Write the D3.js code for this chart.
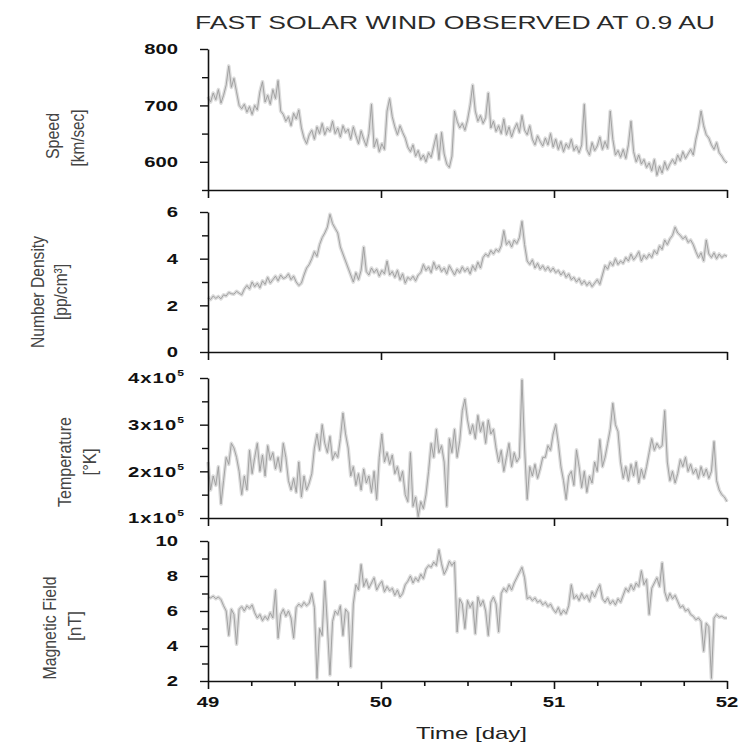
<!DOCTYPE html>
<html><head><meta charset="utf-8">
<script src="https://cdn.jsdelivr.net/npm/d3@7"></script>
<style>body{margin:0;background:#fff}svg{display:block}</style>
</head><body>
<svg id="chart" width="741" height="745"></svg>
<script>
// ---- sampling grid (day of year) ----
const timeStart = 49, timeStep = 0.015;

// ---- series values ----
const speed = [
715,706,722,710,728,704,718,736,770,732,
748,724,700,694,702,688,698,684,700,692,
724,742,706,718,702,728,712,744,690,684,
672,680,664,686,676,692,660,642,632,648,
656,640,662,650,668,648,660,654,672,650,
660,644,664,652,658,640,662,646,632,655,
640,628,650,702,626,640,618,632,622,690,
712,680,662,648,664,652,642,626,618,630,
610,620,604,612,600,616,608,628,648,604,
652,614,596,590,610,690,672,660,668,656,
674,700,736,690,672,682,668,678,722,660,
672,654,664,650,676,648,662,644,658,668,
652,682,656,648,664,640,630,646,636,628,
642,630,650,626,640,622,636,618,632,624,
640,620,628,616,630,702,622,612,634,620,
628,644,622,636,624,690,640,612,620,608,
622,606,630,672,618,600,612,596,604,590,
598,584,604,576,592,580,600,586,596,604,
596,612,602,618,606,614,622,612,640,660,
690,664,648,642,630,622,634,616,610,602,
598];

const density = [
2.35,2.25,2.4,2.3,2.38,2.28,2.45,2.4,2.55,2.5,
2.48,2.6,2.52,2.45,2.7,2.85,2.7,3.0,2.8,2.95,
2.75,3.05,2.9,3.2,2.95,3.1,3.25,3.05,3.3,3.15,
3.2,3.35,3.1,3.25,3.0,2.85,2.95,3.3,3.6,3.75,
4.0,4.3,4.1,4.6,4.9,5.1,5.35,5.9,5.5,5.3,
5.1,4.5,4.2,3.9,3.6,3.3,3.0,3.4,3.1,3.5,
4.5,3.45,3.3,3.6,3.4,3.55,3.25,3.5,3.35,3.9,
3.3,3.45,3.2,3.5,3.1,3.35,2.95,3.2,3.1,3.25,
3.05,3.3,3.4,3.75,3.5,3.65,3.4,3.85,3.55,3.7,
3.45,3.6,3.35,3.7,3.5,3.3,3.55,3.4,3.65,3.45,
3.6,3.35,3.7,3.5,3.85,3.6,4.05,4.2,4.1,4.35,
4.2,4.4,4.3,4.55,5.2,4.6,4.75,4.5,4.8,4.65,
4.9,5.6,4.6,3.9,3.75,3.95,3.6,3.8,3.55,3.7,
3.5,3.65,3.45,3.6,3.4,3.5,3.3,3.45,3.2,3.35,
3.1,3.2,3.0,3.15,2.9,3.05,2.85,3.0,2.8,2.95,
3.1,2.9,3.3,3.7,3.55,3.85,3.7,4.0,3.75,3.9,
3.8,4.05,3.9,4.2,3.95,4.1,4.3,3.9,4.15,4.0,
4.2,4.05,4.35,4.2,4.55,4.4,4.8,4.6,4.85,5.0,
5.35,5.1,5.0,4.85,4.95,4.7,4.8,4.6,4.3,4.05,
4.25,3.9,4.8,4.2,4.05,4.25,4.0,4.2,4.05,4.15,
4.1];

// temperature in units of 10^5 K
const temperatureE5 = [
2.2,1.6,1.9,1.7,2.1,1.3,1.8,2.3,2.15,2.6,
2.5,2.3,2.0,1.5,1.9,1.6,2.45,1.95,2.3,2.6,
2.0,2.35,1.9,2.55,2.25,2.4,2.05,2.3,2.0,2.6,
2.3,1.8,1.6,1.85,1.55,2.2,1.45,1.9,1.6,1.75,
1.95,2.5,2.8,2.45,3.0,2.6,2.4,2.75,2.25,2.4,
2.3,2.7,3.25,2.8,2.5,1.9,2.1,1.7,1.95,1.6,
2.05,1.75,1.9,1.55,2.0,1.4,2.3,2.8,2.2,2.4,
2.15,2.35,1.95,2.1,1.8,2.0,1.5,1.35,2.4,1.25,
1.45,1.03,1.35,1.2,1.5,2.0,2.6,2.3,2.9,2.4,
2.55,2.2,1.25,2.7,2.4,2.9,2.3,2.65,3.3,3.55,
3.1,2.8,3.0,2.7,3.2,2.85,3.05,2.6,3.1,2.8,
2.9,2.5,2.2,2.45,2.0,2.3,2.6,2.1,2.4,2.2,
2.3,3.96,2.5,1.4,2.1,1.9,2.15,1.85,2.05,2.3,
2.3,2.55,2.45,2.8,3.0,2.6,2.1,1.8,1.4,1.9,
2.0,1.7,2.46,2.1,1.65,2.0,1.55,1.9,1.75,2.2,
2.0,2.68,2.1,2.3,2.6,2.9,3.46,3.0,2.85,2.2,
1.85,2.1,1.8,2.15,1.9,2.2,1.75,2.05,1.85,2.1,
2.4,2.7,2.45,2.6,2.5,2.55,3.3,2.2,1.8,2.0,
1.75,1.95,2.25,2.1,2.3,2.0,2.15,1.95,2.05,1.85,
2.1,1.9,2.05,1.85,2.0,2.64,1.8,1.6,1.5,1.45,
1.35];

const magnetic = [
6.8,6.75,6.85,6.7,6.8,6.65,6.3,6.0,4.6,6.1,
5.8,4.1,6.1,6.25,6.0,6.3,6.15,6.35,5.9,5.6,
5.8,5.45,5.7,5.5,5.9,5.6,7.2,4.45,5.8,6.1,
5.7,6.0,5.6,4.45,6.2,6.4,6.25,6.5,6.3,6.45,
7.0,6.2,2.15,5.0,4.6,7.7,5.2,2.35,5.4,6.0,
5.8,6.3,4.6,6.1,5.9,2.8,6.4,7.5,7.2,8.66,
7.4,7.8,7.3,7.6,7.9,7.2,7.5,7.7,7.1,7.4,
7.15,7.3,6.9,7.2,6.8,7.0,7.5,7.7,8.0,7.6,
7.9,7.7,8.1,7.85,8.4,8.6,8.5,8.8,8.6,9.5,
8.7,8.1,8.4,8.85,8.6,8.8,4.8,6.7,6.4,5.0,
6.6,6.2,6.5,4.7,6.8,6.3,6.6,6.0,4.6,6.5,
6.8,6.4,4.8,7.0,7.3,7.1,7.5,7.2,7.6,7.9,
8.2,8.5,7.9,6.7,6.8,6.6,6.75,6.5,6.6,6.35,
6.5,6.25,6.4,6.1,5.9,6.2,5.8,6.05,5.85,6.3,
7.5,6.7,6.9,6.6,7.0,6.7,6.9,6.55,7.1,6.8,
7.2,7.5,6.7,6.5,6.75,6.4,6.6,6.35,6.7,6.5,
6.9,7.3,7.1,7.5,7.2,7.6,7.4,8.3,7.5,7.8,
5.8,7.3,7.6,7.9,7.4,8.75,7.1,6.6,7.0,6.7,
6.9,6.55,6.2,6.3,6.0,6.1,5.8,5.7,5.5,5.6,
5.4,3.7,5.3,5.1,2.15,5.6,5.8,5.65,5.7,5.6,
5.6];

// ---- tick values / labels ----
const xMajorTicks = [49, 50, 51, 52];
const xMinorTicks = [49.25, 49.5, 49.75, 50.25, 50.5, 50.75, 51.25, 51.5, 51.75];
const xTickLabels = ["49", "50", "51", "52"];

const speedTicks = [600, 700, 800];
const speedMinor = [550, 650, 750];
const densityTicks = [0, 2, 4, 6];
const densityMinor = [1, 3, 5];
const tempTicks = [1, 2, 3, 4];
const tempMinor = [1.5, 2.5, 3.5];
const tempTickLabels = ["1x10", "2x10", "3x10", "4x10"];
const magTicks = [2, 4, 6, 8, 10];
const magMinor = [3, 5, 7, 9];

const titleText = "FAST SOLAR WIND OBSERVED AT 0.9 AU";
const xTitle = "Time [day]";

// ---- layout ----
const svg = d3.select("#chart");
const X0 = 208, X1 = 727;
const x = d3.scaleLinear().domain([49, 52]).range([X0, X1]);
const FONT = "'Liberation Sans', Arial, Helvetica, sans-serif";
const SX = 1.35; // horizontal stretch of the original figure

svg.append("rect").attr("width", 741).attr("height", 745).attr("fill", "#fff");

svg.append("text")
  .attr("x", 195).attr("y", 29)
  .attr("font-family", FONT).attr("font-size", 19).attr("fill", "#2a2a2a")
  .attr("textLength", 520).attr("lengthAdjust", "spacingAndGlyphs")
  .text(titleText);

const panels = [
  {data: speed, domain: [550, 800], top: 49, bottom: 190, major: speedTicks, minor: speedMinor,
   labels: speedTicks.map(String), titles: [
     {t: "Speed", cx: 52, cy: 136, len: 46}, {t: "[km/sec]", cx: 77, cy: 138, len: 57}]},
  {data: density, domain: [0, 6], top: 212, bottom: 352, major: densityTicks, minor: densityMinor,
   labels: densityTicks.map(String), titles: [
     {t: "Number Density", cx: 37, cy: 292, len: 112}, {t: "[pp/cm³]", cx: 60, cy: 292, len: 56}]},
  {data: temperatureE5, domain: [1, 4], top: 378, bottom: 518, major: tempTicks, minor: tempMinor,
   labels: tempTickLabels, sup: "5", titles: [
     {t: "Temperature", cx: 64, cy: 462, len: 90}, {t: "[°K]", cx: 89, cy: 462, len: 27}]},
  {data: magnetic, domain: [2, 10], top: 541, bottom: 681, major: magTicks, minor: magMinor,
   labels: magTicks.map(String), titles: [
     {t: "Magnetic Field", cx: 49, cy: 628, len: 103}, {t: "[nT]", cx: 74, cy: 626, len: 30}]}
];

panels.forEach((p, pi) => {
  const y = d3.scaleLinear().domain(p.domain).range([p.bottom, p.top]);
  const g = svg.append("g");

  // data line: a soft light halo under a thin grey core
  const line = d3.line()
    .x((d, i) => x(timeStart + i * timeStep))
    .y(d => y(d));
  g.append("path").datum(p.data)
    .attr("d", line)
    .attr("fill", "none")
    .attr("stroke", "#dcdcdc")
    .attr("stroke-width", 3.6)
    .attr("stroke-linejoin", "round");
  g.append("path").datum(p.data)
    .attr("d", line)
    .attr("fill", "none")
    .attr("stroke", "#9c9c9c")
    .attr("stroke-width", 0.9)
    .attr("stroke-linejoin", "round");

  // y axis
  const yMaj = g.append("g").attr("transform", `translate(${X0},0)`)
    .call(d3.axisLeft(y).tickValues(p.major).tickSize(8).tickSizeOuter(0).tickFormat(""));
  const yMin = g.append("g").attr("transform", `translate(${X0},0)`)
    .call(d3.axisLeft(y).tickValues(p.minor).tickSize(6).tickSizeOuter(0).tickFormat(""));
  [yMaj, yMin].forEach(a => {
    a.selectAll("path").attr("stroke", "#111").attr("stroke-width", 1.6);
    a.selectAll("line").attr("stroke", "#111").attr("stroke-width", 1.4);
  });
  yMin.select(".domain").remove();

  // y tick labels
  p.major.forEach((v, k) => {
    const t = g.append("text")
      .attr("transform", `translate(${X0 - (p.sup ? 24 : 30)},${y(v)}) scale(${SX},1)`)
      .attr("text-anchor", "end").attr("dy", "0.36em")
      .attr("font-family", FONT).attr("font-weight", "bold").attr("font-size", 15)
      .attr("fill", "#111");
    if (p.sup) {
      t.append("tspan").attr("letter-spacing", 0.8).text(p.labels[k]);
      t.append("tspan").attr("dy", -7).attr("font-size", 9).text(p.sup);
    } else {
      t.text(p.labels[k]);
    }
  });

  // x axis
  const last = pi === panels.length - 1;
  const xMaj = g.append("g").attr("transform", `translate(0,${p.bottom})`)
    .call(d3.axisBottom(x).tickValues(xMajorTicks).tickSize(8).tickSizeOuter(0).tickFormat(""));
  xMaj.selectAll("path").attr("stroke", "#111").attr("stroke-width", 1.6);
  xMaj.selectAll("line").attr("stroke", "#111").attr("stroke-width", 1.6);
  if (last) {
    const xMin = g.append("g").attr("transform", `translate(0,${p.bottom})`)
      .call(d3.axisBottom(x).tickValues(xMinorTicks).tickSize(5).tickSizeOuter(0).tickFormat(""));
    xMin.select(".domain").remove();
    xMin.selectAll("line").attr("stroke", "#111").attr("stroke-width", 1.6);
    xMajorTicks.forEach((v, k) => {
      g.append("text")
        .attr("transform", `translate(${x(v)},${p.bottom + 26}) scale(${SX},1)`)
        .attr("text-anchor", "middle")
        .attr("font-family", FONT).attr("font-weight", "bold").attr("font-size", 15)
        .attr("fill", "#111").text(xTickLabels[k]);
    });
  }

  // y titles (rotated)
  p.titles.forEach(tt => {
    g.append("text")
      .attr("transform", `translate(${tt.cx},${tt.cy}) scale(${SX},1) rotate(-90)`)
      .attr("text-anchor", "middle").attr("dy", "0.35em")
      .attr("font-family", FONT).attr("font-size", 14).attr("fill", "#444")
      .attr("textLength", tt.len).attr("lengthAdjust", "spacingAndGlyphs")
      .text(tt.t);
  });
});

svg.append("text")
  .attr("x", (X0 + X1) / 2 + 4).attr("y", 739)
  .attr("text-anchor", "middle")
  .attr("font-family", FONT).attr("font-size", 17).attr("fill", "#222")
  .attr("textLength", 111).attr("lengthAdjust", "spacingAndGlyphs")
  .text(xTitle);
</script>
</body></html>
